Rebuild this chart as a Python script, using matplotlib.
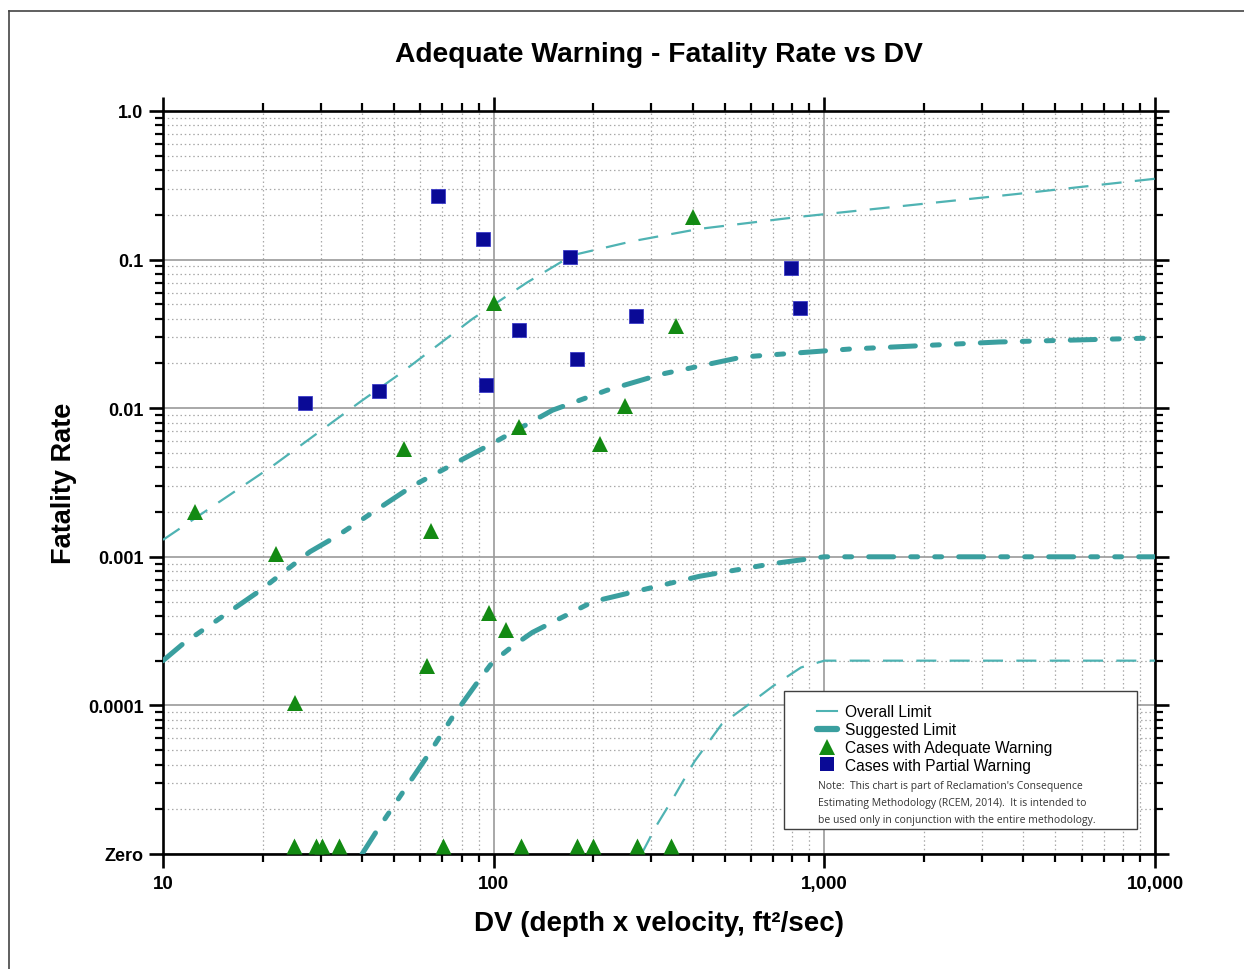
import matplotlib
matplotlib.use("Agg")
import matplotlib.pyplot as plt
import matplotlib.ticker as mticker
from matplotlib.lines import Line2D
from matplotlib.patches import Rectangle
from matplotlib.markers import MarkerStyle

plt.rcParams["font.family"] = ["Liberation Sans", "DejaVu Sans"]

ZERO = 1e-5  # plotted position of the "Zero" row

# Overall limit (thin dashed) - upper and lower branches
OVERALL_UP_DV = [10, 21.5, 39.4, 52, 86.4, 126, 173, 263, 419, 840, 1109, 3800, 10000]
OVERALL_UP_FR = [0.0013, 0.0041, 0.011, 0.017, 0.040, 0.070, 0.107, 0.133, 0.161, 0.194, 0.207, 0.276, 0.35]
OVERALL_LO_DV = [280, 294, 306, 350, 405, 490, 585, 700, 850, 1000, 10000]
OVERALL_LO_FR = [1e-5, 1.23e-5, 1.47e-5, 2.4e-5, 4.2e-5, 7.5e-5, 1.0e-4, 1.35e-4, 1.8e-4, 2e-4, 2e-4]

# Suggested limit (thick dashed) - upper and lower branches
SUGG_UP_DV = [10, 11.5, 19.6, 27.8, 33.6, 56.9, 102, 150.7, 220, 324, 565, 1190, 3380, 10000]
SUGG_UP_FR = [0.0002, 0.00026, 0.00059, 0.00108, 0.00138, 0.003, 0.006, 0.0097, 0.0132, 0.017, 0.0221, 0.025, 0.0279, 0.0297]
SUGG_LO_DV = [40, 44.3, 53.1, 63.2, 75.2, 90.7, 99.3, 114, 131, 200, 420, 700, 1000, 10000]
SUGG_LO_FR = [1e-5, 1.43e-5, 2.6e-5, 4.6e-5, 8.4e-5, 1.5e-4, 1.96e-4, 2.5e-4, 3.1e-4, 5.0e-4, 7.4e-4, 9.0e-4, 1e-3, 1e-3]

# Cases with adequate warning
ADEQ_DV = [12.5, 22, 25, 53.5, 64.5, 62.8, 100, 96.6, 109, 119, 209, 250, 355, 400]
ADEQ_FR = [0.002, 0.00105, 0.000104, 0.0053, 0.0015, 0.000184, 0.051, 0.00042, 0.00032, 0.0075, 0.0057, 0.0103, 0.0357, 0.194]
# Cases with adequate warning and zero fatality rate
ADEQ_ZERO_DV = [24.9, 29.0, 30.2, 34.0, 70.1, 120.7, 179, 200, 272, 343]

# Cases with partial warning
PART_DV = [26.9, 44.9, 67.8, 92.6, 94.6, 119, 170, 179, 268.6, 795, 846]
PART_FR = [0.0108, 0.0131, 0.268, 0.138, 0.0143, 0.0336, 0.104, 0.0214, 0.0417, 0.0878, 0.047]

X_TICKS = [10, 100, 1000, 10000]
X_LABELS = ["10", "100", "1,000", "10,000"]
Y_TICKS = [1e-5, 1e-4, 1e-3, 1e-2, 1e-1, 1.0]
Y_LABELS = ["Zero", "0.0001", "0.001", "0.01", "0.1", "1.0"]

TEAL_THIN = "#4fb3b3"
TEAL_THICK = "#3a9f9f"
GREEN = "#138a13"
NAVY = "#0a0a96"

fig = plt.figure(figsize=(12.44, 9.70), dpi=100)
ax = fig.add_axes([163 / 1244, 1 - 855 / 970, 992 / 1244, 743 / 970])

ax.set_xscale("log")
ax.set_yscale("log")
ax.set_xlim(10, 10000)
ax.set_ylim(1e-5, 1.0)

# grid
ax.grid(which="major", color="#9a9a9a", linewidth=1.2, linestyle="-", zorder=0)
ax.grid(which="minor", color="#a8a8a8", linewidth=0.9, linestyle=(0, (1.2, 2.2)), zorder=0)
ax.set_axisbelow(True)

# limit curves
for dv, fr in [(OVERALL_UP_DV, OVERALL_UP_FR), (OVERALL_LO_DV, OVERALL_LO_FR)]:
    ax.plot(dv, fr, color=TEAL_THIN, linewidth=1.6, dashes=(9, 6), zorder=3)
for dv, fr in [(SUGG_UP_DV, SUGG_UP_FR), (SUGG_LO_DV, SUGG_LO_FR)]:
    ax.plot(dv, fr, color=TEAL_THICK, linewidth=3.6, dashes=(5, 3.4, 1.4, 3.4, 1.4, 3.4),
            dash_capstyle="round", zorder=3)

# data points
ax.plot(ADEQ_DV, ADEQ_FR, linestyle="none", marker="^", markersize=11.5,
        color=GREEN, markeredgewidth=0, zorder=5)
base_tri = MarkerStyle([(-1, 0), (1, 0), (0, 2), (-1, 0)])
ax.plot(ADEQ_ZERO_DV, [ZERO] * len(ADEQ_ZERO_DV), linestyle="none", marker=base_tri,
        markersize=23, color=GREEN, markeredgewidth=0, zorder=5, clip_on=False)
ax.plot(PART_DV, PART_FR, linestyle="none", marker="s", markersize=9.5,
        color=NAVY, markeredgecolor="#3c3cc8", markeredgewidth=0.6, zorder=5)

# axes styling
for sp in ax.spines.values():
    sp.set_linewidth(1.9)
    sp.set_color("black")
ax.xaxis.set_major_locator(mticker.FixedLocator(X_TICKS))
ax.xaxis.set_major_formatter(mticker.FixedFormatter(X_LABELS))
ax.xaxis.set_minor_locator(mticker.LogLocator(base=10, subs=range(2, 10)))
ax.xaxis.set_minor_formatter(mticker.NullFormatter())
ax.yaxis.set_major_locator(mticker.FixedLocator(Y_TICKS))
ax.yaxis.set_major_formatter(mticker.FixedFormatter(Y_LABELS))
ax.yaxis.set_minor_locator(mticker.LogLocator(base=10, subs=range(2, 10)))
ax.yaxis.set_minor_formatter(mticker.NullFormatter())
ax.tick_params(which="both", direction="out", top=True, right=True, color="black")
ax.tick_params(which="major", length=10, width=1.9)
ax.tick_params(which="minor", length=5.5, width=1.6)
ax.tick_params(axis="x", which="major", labelsize=13.5, pad=5)
ax.tick_params(axis="y", which="major", labelsize=13, pad=4)
for lab in ax.get_xticklabels() + ax.get_yticklabels():
    lab.set_fontweight("bold")

ax.set_title("Adequate Warning - Fatality Rate vs DV", fontsize=20.3, fontweight="bold", pad=36)
ax.set_xlabel("DV (depth x velocity, ft²/sec)", fontsize=20, fontweight="bold", labelpad=13)
ax.set_ylabel("Fatality Rate", fontsize=19.5, fontweight="bold", labelpad=8)

# legend box
box = Rectangle((0.626, 0.0336), 0.356, 0.186, transform=ax.transAxes,
                facecolor="white", edgecolor="#404040", linewidth=1.0, zorder=8)
ax.add_patch(box)
handles = [
    Line2D([], [], color=TEAL_THIN, linewidth=1.5),
    Line2D([], [], color=TEAL_THICK, linewidth=4.5, solid_capstyle="round"),
    Line2D([], [], linestyle="none", marker="^", markersize=11, color=GREEN, markeredgewidth=0),
    Line2D([], [], linestyle="none", marker="s", markersize=9.5, color=NAVY, markeredgewidth=0),
]
labels = ["Overall Limit", "Suggested Limit", "Cases with Adequate Warning", "Cases with Partial Warning"]
leg = ax.legend(handles, labels, loc="upper left", bbox_to_anchor=(0.648, 0.216),
                frameon=False, fontsize=11.2, handlelength=1.3, handletextpad=0.5,
                labelspacing=0.18, borderpad=0.2)
leg.set_zorder(9)
ax.text(0.660, 0.100,
        "Note:  This chart is part of Reclamation's Consequence\n"
        "Estimating Methodology (RCEM, 2014).  It is intended to\n"
        "be used only in conjunction with the entire methodology.",
        transform=ax.transAxes, fontsize=7.5, family=["Open Sans", "DejaVu Sans"], color="#333333",
        va="top", ha="left", linespacing=1.75, zorder=9)

# figure border (top and left)
fig.add_artist(Line2D([9 / 1244, 9 / 1244], [0, 1 - 12 / 970], color="#444444", linewidth=1.2))
fig.add_artist(Line2D([9 / 1244, 1], [1 - 12 / 970, 1 - 12 / 970], color="#444444", linewidth=1.2))

fig.savefig("out.png", dpi=100, facecolor="white")
